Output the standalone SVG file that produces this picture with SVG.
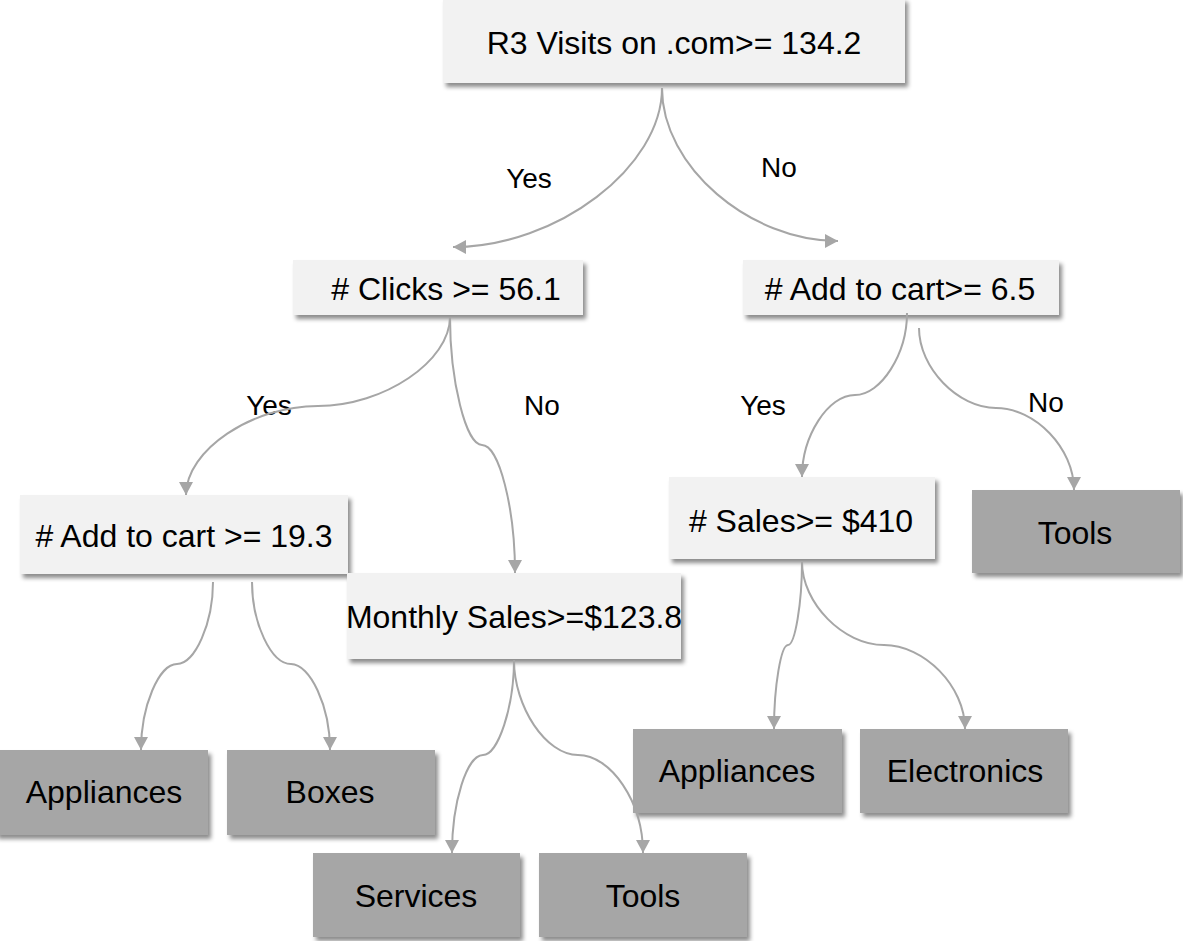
<svg xmlns="http://www.w3.org/2000/svg" width="1183" height="941" viewBox="0 0 1183 941">
<style>
.dec{fill:#f2f2f2;filter:url(#sh)}
.leaf{fill:#a6a6a6;filter:url(#sh)}
.t{font-family:"Liberation Sans",Arial,sans-serif;font-size:32px;fill:#000;text-anchor:middle}
.lbl{font-family:"Liberation Sans",Arial,sans-serif;font-size:28px;fill:#000;text-anchor:middle}
.c{fill:none;stroke:#a6a6a6;stroke-width:2;marker-end:url(#ah)}
</style>
<defs>
<filter id="sh" x="-10%" y="-20%" width="125%" height="150%">
<feDropShadow dx="3" dy="4" stdDeviation="2.2" flood-color="#000" flood-opacity="0.45"/>
</filter>
<marker id="ah" markerUnits="userSpaceOnUse" markerWidth="16" markerHeight="16" refX="13" refY="7" orient="auto">
<path d="M0,0 L13,7 L0,14 z" fill="#a6a6a6"/>
</marker>
</defs>
<rect width="1183" height="941" fill="#fff"/>
<g id="n-root"><rect class="dec" x="443" y="-2" width="462" height="85"/><text class="t" x="674" y="54">R3 Visits on .com&gt;= 134.2</text></g>
<g id="n-clicks"><rect class="dec" x="293" y="260" width="290" height="55"/><text class="t" x="446" y="300"># Clicks &gt;= 56.1</text></g>
<g id="n-cart65"><rect class="dec" x="743" y="260" width="316" height="55"/><text class="t" x="900" y="300"># Add to cart&gt;= 6.5</text></g>
<g id="n-cart193"><rect class="dec" x="20" y="495" width="328" height="79"/><text class="t" x="184" y="547"># Add to cart &gt;= 19.3</text></g>
<g id="n-monthly"><rect class="dec" x="347" y="573" width="334" height="86"/><text class="t" x="514" y="628">Monthly Sales&gt;=$123.8</text></g>
<g id="n-sales"><rect class="dec" x="669" y="477" width="266" height="82"/><text class="t" x="801" y="532"># Sales&gt;= $410</text></g>
<g id="n-tools1"><rect class="leaf" x="972" y="490" width="208" height="83"/><text class="t" x="1075" y="544">Tools</text></g>
<g id="n-appl1"><rect class="leaf" x="-5" y="750" width="213" height="85"/><text class="t" x="104" y="803">Appliances</text></g>
<g id="n-boxes"><rect class="leaf" x="227" y="750" width="208" height="85"/><text class="t" x="330" y="803">Boxes</text></g>
<g id="n-services"><rect class="leaf" x="313" y="853" width="207" height="84"/><text class="t" x="416" y="907">Services</text></g>
<g id="n-tools2"><rect class="leaf" x="539" y="853" width="208" height="84"/><text class="t" x="643" y="907">Tools</text></g>
<g id="n-appl2"><rect class="leaf" x="633" y="729" width="209" height="84"/><text class="t" x="737" y="782">Appliances</text></g>
<g id="n-elec"><rect class="leaf" x="860" y="729" width="208" height="84"/><text class="t" x="965" y="782">Electronics</text></g>
<g id="labels">
<text class="lbl" x="529" y="188">Yes</text>
<text class="lbl" x="779" y="177">No</text>
<text class="lbl" x="269" y="415">Yes</text>
<text class="lbl" x="542" y="415">No</text>
<text class="lbl" x="763" y="415">Yes</text>
<text class="lbl" x="1046" y="412">No</text>
</g>
<g id="connectors">
<path class="c" d="M662,88 C662,167 557,247 453,247"/>
<path class="c" d="M662,88 C662,167 750,241 838,241"/>
<path class="c" d="M450,317 C450,361 384,406 318,406 C252,406 186,450 186,495"/>
<path class="c" d="M450,317 C450,381 466,445 482,445 C499,445 515,508 515,573"/>
<path class="c" d="M907,313 C907,354 881,395 855,395 C828,395 802,436 802,477"/>
<path class="c" d="M919,328 C919,368 958,408 996,408 C1035,408 1074,448 1074,490"/>
<path class="c" d="M213,582 C213,623 195,664 177,664 C159,664 141,706 141,750"/>
<path class="c" d="M252,582 C252,623 271,664 291,664 C310,664 330,706 330,750"/>
<path class="c" d="M514,660 C514,707 498,755 483,755 C467,755 452,802 452,853"/>
<path class="c" d="M514,660 C514,707 546,755 578,755 C611,755 643,802 643,853"/>
<path class="c" d="M802,562 C802,603 795,645 788,645 C781,645 774,686 774,729"/>
<path class="c" d="M802,562 C802,603 843,645 884,645 C924,645 965,686 965,729"/>
</g>
</svg>
